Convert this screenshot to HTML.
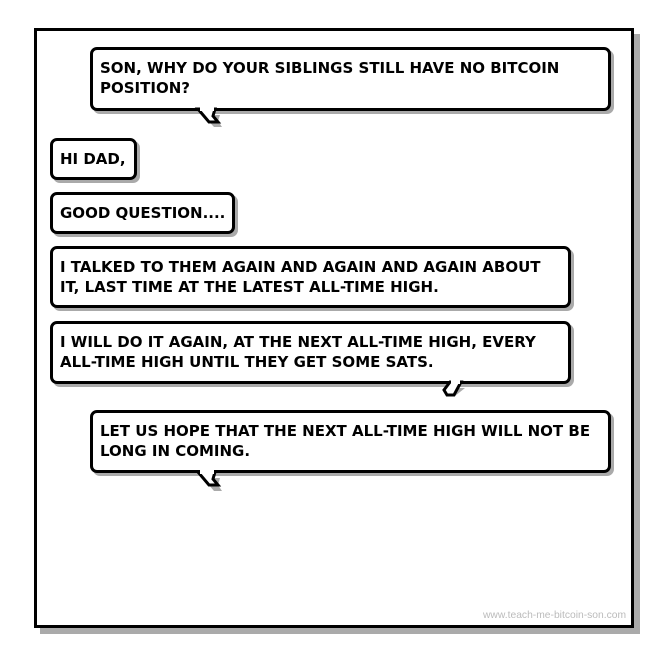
<!DOCTYPE html>
<html><head><style>
body{margin:0;width:660px;height:660px;background:#fff;position:relative;overflow:hidden;font-family:"DejaVu Sans","Liberation Sans",sans-serif;}
.frame{position:absolute;left:34px;top:28px;width:594px;height:594px;border:3px solid #000;box-shadow:6px 6px 0 #aaa;background:#fff;}
.b{position:absolute;border:3px solid #000;border-radius:7px;background:#fff;box-shadow:3px 3px 0 #aaa;box-sizing:border-box;padding:8px 7px;font-weight:bold;font-size:15px;line-height:20px;color:#000;white-space:nowrap;}
.wm{position:absolute;left:483px;top:610px;font-size:10.3px;color:#bbb;font-family:"Liberation Sans",sans-serif;}
svg{position:absolute;left:0;top:0;}
</style></head><body>
<div class="frame"></div>
<div class="b" style="left:90px;top:47px;width:521px;height:64px;">SON, WHY DO YOUR SIBLINGS STILL HAVE NO BITCOIN<br>POSITION?</div>
<div class="b" style="left:50px;top:138px;width:87px;height:42px;">HI DAD,</div>
<div class="b" style="left:50px;top:192px;width:185px;height:42px;">GOOD QUESTION....</div>
<div class="b" style="left:50px;top:246px;width:521px;height:62px;">I TALKED TO THEM AGAIN AND AGAIN AND AGAIN ABOUT<br>IT, LAST TIME AT THE LATEST ALL-TIME HIGH.</div>
<div class="b" style="left:50px;top:321px;width:521px;height:63px;">I WILL DO IT AGAIN, AT THE NEXT ALL-TIME HIGH, EVERY<br>ALL-TIME HIGH UNTIL THEY GET SOME SATS.</div>
<div class="b" style="left:90px;top:410px;width:521px;height:63px;">LET US HOPE THAT THE NEXT ALL-TIME HIGH WILL NOT BE<br>LONG IN COMING.</div>
<svg width="660" height="660">
<g stroke-linejoin="miter">
<polygon points="201,113 212,125 220,125 216,119 218,113" fill="#aaa" transform="translate(2,2)"/>
<polygon points="198,109 209,122 218,122 213,116 215,109" fill="#fff" stroke="#000" stroke-width="3"/>
<rect x="200" y="106" width="14" height="5" fill="#fff"/>
<polygon points="201,476 212,489 220,489 216,483 218,476" fill="#aaa" transform="translate(2,2)"/>
<polygon points="198,472 209,485 218,485 213,479 215,472" fill="#fff" stroke="#000" stroke-width="3"/>
<rect x="200" y="469" width="14" height="5" fill="#fff"/>
<polygon points="447,386 445,394 453,394 463,386" fill="#aaa" transform="translate(2,2)"/>
<polygon points="450,382 444,390 447,395 454,395 461,382" fill="#fff" stroke="#000" stroke-width="3"/>
<rect x="451" y="379" width="9" height="5" fill="#fff"/>
</g>
</svg>
<div class="wm">www.teach-me-bitcoin-son.com</div>
</body></html>
